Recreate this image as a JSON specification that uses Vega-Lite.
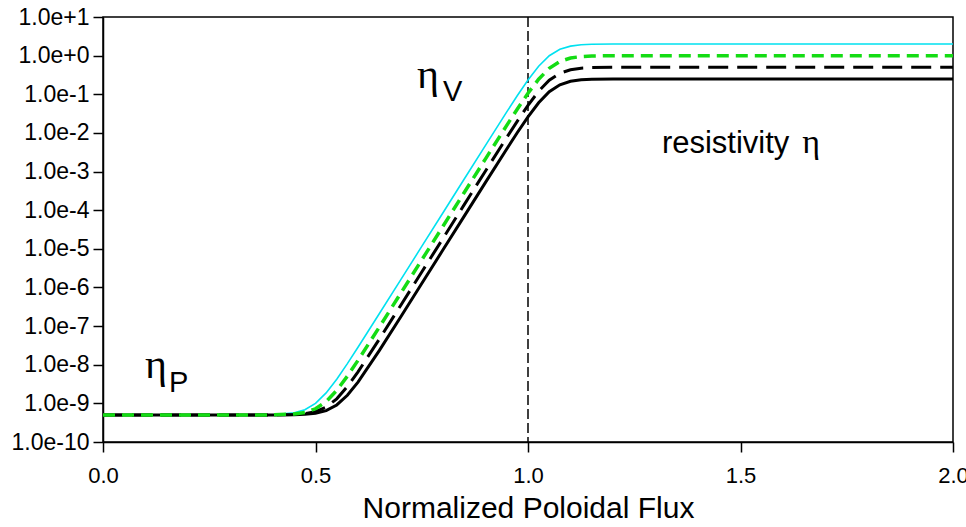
{
  "$schema": "https://vega.github.io/schema/vega-lite/v6.json",
  "width": 850,
  "height": 425,
  "autosize": {"type": "none"},
  "padding": {"left": 103, "top": 17, "right": 13, "bottom": 85},
  "background": "white",
  "config": {
    "view": {"stroke": "black", "strokeWidth": 1.5},
    "font": "Liberation Sans",
    "axis": {
      "grid": false,
      "domainColor": "black",
      "domainWidth": 1.5,
      "tickColor": "black",
      "tickWidth": 1.5,
      "tickSize": 10,
      "labelColor": "black",
      "labelFont": "Liberation Sans",
      "labelFontSize": 22,
      "labelOverlap": false,
      "labelBound": false,
      "labelFlush": false,
      "titleColor": "black",
      "titleFont": "Liberation Sans",
      "titleFontWeight": "normal"
    }
  },
  "datasets": {
    "curves": [
      {"psi": 0, "cyan": 5e-10, "green": 5e-10, "dash": 5e-10, "solid": 5e-10},
      {"psi": 0.3, "cyan": 5e-10, "green": 5e-10, "dash": 5e-10, "solid": 5e-10},
      {"psi": 0.4, "cyan": 5.09e-10, "green": 5.04e-10, "dash": 5.02e-10, "solid": 5.01e-10},
      {"psi": 0.45, "cyan": 5.67e-10, "green": 5.3e-10, "dash": 5.15e-10, "solid": 5.07e-10},
      {"psi": 0.475, "cyan": 6.83e-10, "green": 5.82e-10, "dash": 5.4e-10, "solid": 5.2e-10},
      {"psi": 0.5, "cyan": 1.0e-9, "green": 7.24e-10, "dash": 6.09e-10, "solid": 5.55e-10},
      {"psi": 0.525, "cyan": 1.865e-9, "green": 1.111e-9, "dash": 7.96e-10, "solid": 6.5e-10},
      {"psi": 0.55, "cyan": 4.23e-9, "green": 2.169e-9, "dash": 1.31e-9, "solid": 9.09e-10},
      {"psi": 0.575, "cyan": 1.068e-8, "green": 5.057e-9, "dash": 2.711e-9, "solid": 1.617e-9},
      {"psi": 0.6, "cyan": 2.83e-8, "green": 1.294e-8, "dash": 6.54e-9, "solid": 3.55e-9},
      {"psi": 0.65, "cyan": 2.08e-7, "green": 9.33e-8, "dash": 4.55e-8, "solid": 2.32e-8},
      {"psi": 0.7, "cyan": 1.545e-6, "green": 6.925e-7, "dash": 3.362e-7, "solid": 1.7005e-7},
      {"psi": 0.75, "cyan": 1.152e-5, "green": 5.16e-6, "dash": 2.503e-6, "solid": 1.2645e-6},
      {"psi": 0.8, "cyan": 8.59e-5, "green": 3.846e-5, "dash": 1.866e-5, "solid": 9.425e-6},
      {"psi": 0.85, "cyan": 6.4e-4, "green": 2.868e-4, "dash": 1.391e-4, "solid": 7.025e-5},
      {"psi": 0.9, "cyan": 4.764e-3, "green": 2.133e-3, "dash": 1.0353e-3, "solid": 5.229e-4},
      {"psi": 0.95, "cyan": 0.03498, "green": 0.01569, "dash": 7.617e-3, "solid": 3.847e-3},
      {"psi": 0.975, "cyan": 0.0927, "green": 0.0417, "dash": 0.02026, "solid": 0.01023},
      {"psi": 1.0, "cyan": 0.2344, "green": 0.1063, "dash": 0.0517, "solid": 0.02609},
      {"psi": 1.025, "cyan": 0.532, "green": 0.245, "dash": 0.1198, "solid": 0.06034},
      {"psi": 1.05, "cyan": 0.995, "green": 0.47, "dash": 0.2312, "solid": 0.1162},
      {"psi": 1.075, "cyan": 1.459, "green": 0.708, "dash": 0.3507, "solid": 0.1759},
      {"psi": 1.1, "cyan": 1.761, "green": 0.8685, "dash": 0.4325, "solid": 0.2166},
      {"psi": 1.125, "cyan": 1.905, "green": 0.9475, "dash": 0.473, "solid": 0.2366},
      {"psi": 1.15, "cyan": 1.964, "green": 0.98, "dash": 0.4898, "solid": 0.2449},
      {"psi": 1.2, "cyan": 1.995, "green": 0.9973, "dash": 0.4986, "solid": 0.2493},
      {"psi": 1.3, "cyan": 2.0, "green": 1.0, "dash": 0.5, "solid": 0.25},
      {"psi": 2.0, "cyan": 2.0, "green": 1.0, "dash": 0.5, "solid": 0.25}
    ],
    "bigEta": [
      {"psi": 0.739, "eta": 0.149, "label": "η"},
      {"psi": 0.099, "eta": 4.57e-9, "label": "η"}
    ],
    "subs": [
      {"psi": 0.8, "eta": 0.066, "label": "V"},
      {"psi": 0.155, "eta": 2.0e-9, "label": "P"}
    ],
    "word": [
      {"psi": 1.315, "eta": 3.09e-3, "label": "resistivity"}
    ],
    "smallEta": [
      {"psi": 1.645, "eta": 3.09e-3, "label": "η"}
    ],
    "marker": [
      {"psi": 1.0}
    ]
  },
  "encoding": {
    "x": {
      "field": "psi",
      "type": "quantitative",
      "scale": {"domain": [0, 2], "nice": false, "zero": false},
      "axis": {
        "values": [0, 0.5, 1, 1.5, 2],
        "format": ".1f",
        "labelPadding": 13,
        "title": "Normalized Poloidal Flux",
        "titleFontSize": 30,
        "titlePadding": 7
      }
    }
  },
  "layer": [
    {
      "data": {"name": "marker"},
      "mark": {"type": "rule", "color": "black", "strokeWidth": 1.5, "strokeDash": [10, 4]},
      "encoding": {}
    },
    {
      "data": {"name": "curves"},
      "mark": {"type": "line", "color": "#00e1f0", "strokeWidth": 1.6},
      "encoding": {
        "y": {
          "field": "cyan",
          "type": "quantitative",
          "scale": {"type": "log", "domain": [1e-10, 10], "nice": false},
          "axis": {
            "values": [1e-10, 1e-9, 1e-8, 1e-7, 1e-6, 1e-5, 1e-4, 1e-3, 1e-2, 1e-1, 1, 10],
            "format": ".1e",
            "labelPadding": 4,
            "labelFontSize": 23,
            "title": null
          }
        }
      }
    },
    {
      "data": {"name": "curves"},
      "mark": {"type": "line", "color": "black", "strokeWidth": 3},
      "encoding": {"y": {"field": "solid", "type": "quantitative"}}
    },
    {
      "data": {"name": "curves"},
      "mark": {"type": "line", "color": "black", "strokeWidth": 3, "strokeDash": [20, 9]},
      "encoding": {"y": {"field": "dash", "type": "quantitative"}}
    },
    {
      "data": {"name": "curves"},
      "mark": {"type": "line", "color": "#14dc14", "strokeWidth": 3.5, "strokeDash": [12, 7]},
      "encoding": {"y": {"field": "green", "type": "quantitative"}}
    },
    {
      "data": {"name": "bigEta"},
      "mark": {"type": "text", "font": "Liberation Serif", "fontSize": 42, "align": "left", "baseline": "alphabetic", "color": "black"},
      "encoding": {"y": {"field": "eta", "type": "quantitative"}, "text": {"field": "label"}}
    },
    {
      "data": {"name": "subs"},
      "mark": {"type": "text", "font": "Liberation Sans", "fontSize": 29, "align": "left", "baseline": "alphabetic", "color": "black"},
      "encoding": {"y": {"field": "eta", "type": "quantitative"}, "text": {"field": "label"}}
    },
    {
      "data": {"name": "word"},
      "mark": {"type": "text", "font": "Liberation Sans", "fontSize": 31, "align": "left", "baseline": "alphabetic", "color": "black"},
      "encoding": {"y": {"field": "eta", "type": "quantitative"}, "text": {"field": "label"}}
    },
    {
      "data": {"name": "smallEta"},
      "mark": {"type": "text", "font": "Liberation Serif", "fontSize": 34, "align": "left", "baseline": "alphabetic", "color": "black"},
      "encoding": {"y": {"field": "eta", "type": "quantitative"}, "text": {"field": "label"}}
    }
  ]
}
